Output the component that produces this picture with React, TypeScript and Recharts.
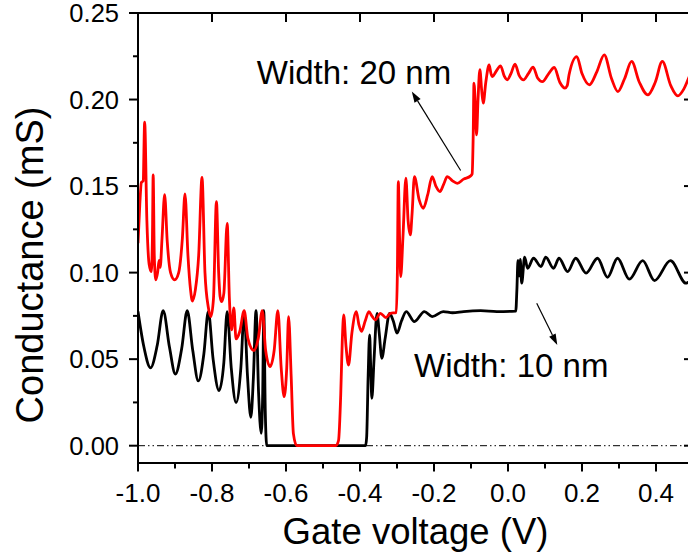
import { LineChart, Line, XAxis, YAxis, ReferenceLine, ReferenceDot } from "recharts";

// Width: 10 nm ribbon (black)
const blackV = [
  -1.0, -0.985, -0.966, -0.948, -0.932, -0.915, -0.899, -0.882, -0.867, -0.852,
  -0.837, -0.822, -0.81, -0.797, -0.781, -0.768, -0.759, -0.748, -0.735, -0.722,
  -0.713, -0.704, -0.695, -0.688, -0.681, -0.674, -0.667, -0.663, -0.66, -0.656,
  -0.652, -0.5, -0.385, -0.382, -0.378, -0.374, -0.371, -0.368, -0.362, -0.354,
  -0.348, -0.341, -0.332, -0.32, -0.31, -0.3, -0.288, -0.275, -0.253, -0.226,
  -0.205, -0.175, -0.15, -0.12, -0.074, -0.03, 0.021, 0.024, 0.027, 0.03,
  0.033, 0.037, 0.045, 0.053, 0.069, 0.089, 0.102, 0.123, 0.138, 0.161,
  0.183, 0.211, 0.242, 0.269, 0.296, 0.328, 0.364, 0.396, 0.439, 0.481, 0.5,
];
const blackG = [
  0.0775, 0.058, 0.045, 0.058, 0.078, 0.057, 0.0414, 0.056, 0.078, 0.055,
  0.0374, 0.053, 0.0775, 0.05, 0.0318, 0.048, 0.0775, 0.045, 0.0249, 0.045,
  0.077, 0.04, 0.0164, 0.04, 0.078, 0.03, 0.0072, 0.03, 0.078, 0.02,
  0.0, 0.0, 0.0, 0.005, 0.04, 0.064, 0.045, 0.0274, 0.05, 0.0765,
  0.065, 0.0505, 0.062, 0.0765, 0.072, 0.065, 0.072, 0.0775, 0.0717, 0.0775,
  0.0746, 0.0775, 0.0768, 0.0775, 0.078, 0.0775, 0.0778, 0.09, 0.107, 0.098,
  0.1077, 0.0939, 0.109, 0.1025, 0.1083, 0.1035, 0.1089, 0.1025, 0.1083, 0.1006,
  0.1083, 0.0997, 0.1083, 0.0973, 0.1083, 0.0962, 0.1069, 0.0954, 0.1069, 0.0939, 0.097,
];

// Width: 20 nm ribbon (red)
const redV = [
  -1.0, -0.995, -0.991, -0.986, -0.982, -0.976, -0.97, -0.964, -0.961, -0.959,
  -0.956, -0.952, -0.947, -0.943, -0.94, -0.935, -0.928, -0.921, -0.912, -0.901,
  -0.89, -0.88, -0.873, -0.865, -0.858, -0.853, -0.845, -0.836, -0.827, -0.819,
  -0.81, -0.803, -0.796, -0.788, -0.782, -0.778, -0.774, -0.768, -0.759, -0.753,
  -0.747, -0.741, -0.735, -0.725, -0.713, -0.703, -0.687, -0.675, -0.664, -0.655,
  -0.643, -0.632, -0.622, -0.613, -0.605, -0.598, -0.593, -0.586, -0.58, -0.571,
  -0.465, -0.458, -0.452, -0.448, -0.444, -0.438, -0.431, -0.422, -0.41, -0.403,
  -0.396, -0.386, -0.376, -0.368, -0.359, -0.345, -0.33, -0.318, -0.302, -0.299,
  -0.2965, -0.293, -0.29, -0.284, -0.276, -0.27, -0.264, -0.259, -0.253, -0.24,
  -0.229, -0.217, -0.205, -0.195, -0.184, -0.174, -0.164, -0.15, -0.137, -0.12,
  -0.101, -0.097, -0.094, -0.092, -0.088, -0.085, -0.081, -0.076, -0.071, -0.067,
  -0.06, -0.051, -0.046, -0.042, -0.033, -0.02, -0.01, -0.002, 0.008, 0.019,
  0.03, 0.042, 0.055, 0.068, 0.08, 0.093, 0.11, 0.125, 0.14, 0.154,
  0.16, 0.165, 0.186, 0.2, 0.22, 0.24, 0.26, 0.28, 0.297, 0.315,
  0.334, 0.355, 0.378, 0.398, 0.417, 0.44, 0.459, 0.475, 0.49, 0.5,
];
const redG = [
  0.117, 0.14, 0.152, 0.153, 0.187, 0.13, 0.105, 0.1006, 0.12, 0.1565,
  0.11, 0.0958, 0.1, 0.107, 0.103, 0.12, 0.145, 0.118, 0.1, 0.0958,
  0.1, 0.12, 0.1455, 0.11, 0.09, 0.0836, 0.09, 0.11, 0.155, 0.1,
  0.08, 0.0746, 0.085, 0.141, 0.1, 0.086, 0.0832, 0.088, 0.1285, 0.085,
  0.0669, 0.0796, 0.0617, 0.066, 0.078, 0.062, 0.055, 0.062, 0.078, 0.055,
  0.0457, 0.055, 0.078, 0.045, 0.0283, 0.045, 0.0746, 0.04, 0.007, 0.0,
  0.0, 0.003, 0.03, 0.06, 0.0756, 0.058, 0.0466, 0.065, 0.0775, 0.07,
  0.066, 0.072, 0.0775, 0.075, 0.0727, 0.0765, 0.074, 0.0765, 0.0769, 0.1,
  0.1526, 0.12, 0.0977, 0.12, 0.1546, 0.13, 0.1218, 0.135, 0.1555, 0.142,
  0.1372, 0.145, 0.1555, 0.15, 0.1468, 0.151, 0.1555, 0.153, 0.1516, 0.154,
  0.1559, 0.157, 0.18, 0.2095, 0.195, 0.1796, 0.2, 0.2172, 0.205, 0.1979,
  0.21, 0.22, 0.215, 0.2133, 0.216, 0.2195, 0.2135, 0.2114, 0.215, 0.2205,
  0.214, 0.2114, 0.215, 0.2187, 0.2125, 0.2104, 0.215, 0.2185, 0.21, 0.2066,
  0.208, 0.2143, 0.2248, 0.215, 0.2085, 0.216, 0.2258, 0.212, 0.2046, 0.212,
  0.222, 0.21, 0.2027, 0.21, 0.222, 0.208, 0.2021, 0.206, 0.2133, 0.218,
];

const xTicks = [-1.0, -0.9, -0.8, -0.7, -0.6, -0.5, -0.4, -0.3, -0.2, -0.1, 0.0, 0.1, 0.2, 0.3, 0.4, 0.5];
const xMajorTicks = [-1.0, -0.8, -0.6, -0.4, -0.2, 0.0, 0.2, 0.4];
const yTicks = [0, 0.025, 0.05, 0.075, 0.1, 0.125, 0.15, 0.175, 0.2, 0.225, 0.25];
const yMajorTicks = [0, 0.05, 0.1, 0.15, 0.2, 0.25];

const X_DOMAIN: [number, number] = [-1, 0.5];
const Y_DOMAIN: [number, number] = [-0.01, 0.25];

const blackData = blackV.map((v, i) => ({ v, g: blackG[i] }));
const redData = redV.map((v, i) => ({ v, g: redG[i] }));

const FONT = '"Liberation Sans", Arial, Helvetica, sans-serif';

// chart layout
const CHART_W = 700;
const CHART_H = 558;
const MARGIN = { top: 13, right: 7, bottom: 0, left: 0 };
const Y_AXIS_W = 138;
const X_AXIS_H = 95;
const PLOT_W = CHART_W - MARGIN.left - MARGIN.right - Y_AXIS_W;
const PLOT_H = CHART_H - MARGIN.top - MARGIN.bottom - X_AXIS_H;

const isMajorX = (v: number) => Math.round(v * 10) % 2 === 0;
const isMajorY = (v: number) => Math.round(v * 1000) % 50 === 0;

function BottomTick({ x, y, payload }: any) {
  const v = payload.value as number;
  const major = isMajorX(v);
  const label = (Math.abs(v) < 1e-9 ? 0 : v).toFixed(1);
  return (
    <g>
      <line x1={x} x2={x} y1={y} y2={y + (major ? 8.5 : 5.5)} stroke="#000" strokeWidth={2} />
      {major && (
        <text x={x} y={y + 38.5} textAnchor="middle" fontSize={26} fontFamily={FONT} fill="#000">
          {label}
        </text>
      )}
    </g>
  );
}

function LeftTick({ x, y, payload }: any) {
  const v = payload.value as number;
  const major = isMajorY(v);
  return (
    <g>
      <line x1={x} x2={x - (major ? 9 : 5)} y1={y} y2={y} stroke="#000" strokeWidth={2} />
      {major && (
        <text x={x - 19} y={y + 9} textAnchor="end" fontSize={25.5} fontFamily={FONT} fill="#000">
          {v.toFixed(2)}
        </text>
      )}
    </g>
  );
}

// top/right frame with inward ticks, as an svg overlay the size of the chart
function Frame() {
  const left = MARGIN.left + Y_AXIS_W;
  const top = MARGIN.top;
  const right = left + PLOT_W;
  const px = (t: number) => left + ((t - X_DOMAIN[0]) / (X_DOMAIN[1] - X_DOMAIN[0])) * PLOT_W;
  const py = (t: number) => top + ((Y_DOMAIN[1] - t) / (Y_DOMAIN[1] - Y_DOMAIN[0])) * PLOT_H;
  return (
    <svg
      width={CHART_W}
      height={CHART_H}
      style={{ position: "absolute", left: 0, top: 0, pointerEvents: "none" }}
    >
      <line x1={left - 1} x2={right} y1={top} y2={top} stroke="#000" strokeWidth={2} />
      <line x1={right} x2={right} y1={top} y2={top + PLOT_H} stroke="#000" strokeWidth={2} />
      {xMajorTicks.map((t) => (
        <line key={`tt${t}`} x1={px(t)} x2={px(t)} y1={top} y2={top + 9} stroke="#000" strokeWidth={2} />
      ))}
      {yMajorTicks.map((t) => (
        <line key={`rt${t}`} x1={right} x2={right - 9} y1={py(t)} y2={py(t)} stroke="#000" strokeWidth={2} />
      ))}
    </svg>
  );
}

function YTitle() {
  return (
    <text
      x={43}
      y={265}
      transform="rotate(-90 43 265)"
      textAnchor="middle"
      fontSize={38}
      fontFamily={FONT}
      fill="#000"
    >
      Conductance (mS)
    </text>
  );
}

function Arrow(props: any) {
  const { x1, y1, x2, y2 } = props;
  const ang = Math.atan2(y2 - y1, x2 - x1);
  const len = 11;
  const half = 3.6;
  const bx = x2 - len * Math.cos(ang);
  const by = y2 - len * Math.sin(ang);
  const qx = -Math.sin(ang) * half;
  const qy = Math.cos(ang) * half;
  return (
    <g>
      <line x1={x1} y1={y1} x2={bx} y2={by} stroke="#000" strokeWidth={1.2} />
      <polygon points={`${x2},${y2} ${bx + qx},${by + qy} ${bx - qx},${by - qy}`} fill="#000" />
    </g>
  );
}

function textShape(value: string) {
  return (props: any) => (
    <text x={props.cx} y={props.cy} fontSize={33} fontFamily={FONT} fill="#000">
      {value}
    </text>
  );
}

function XTitle() {
  return (
    <text x={415.5} y={544} textAnchor="middle" fontSize={36.5} fontFamily={FONT} fill="#000">
      Gate voltage (V)
    </text>
  );
}

export default function App() {
  return (
    <div
      style={{
        position: "fixed",
        left: 0,
        top: 0,
        width: 688,
        height: 558,
        overflow: "hidden",
        background: "#fff",
      }}
    >
      <LineChart width={CHART_W} height={CHART_H} margin={MARGIN}>
        <XAxis
          dataKey="v"
          type="number"
          domain={X_DOMAIN}
          allowDataOverflow
          ticks={xTicks}
          interval={0}
          height={X_AXIS_H}
          tickSize={0}
          tickMargin={0}
          tickLine={false}
          axisLine={{ stroke: "#000", strokeWidth: 2 }}
          tick={<BottomTick />}
          label={<XTitle />}
        />
        <YAxis
          type="number"
          domain={Y_DOMAIN}
          allowDataOverflow
          ticks={yTicks}
          interval={0}
          width={Y_AXIS_W}
          tickSize={0}
          tickMargin={0}
          tickLine={false}
          axisLine={{ stroke: "#000", strokeWidth: 2 }}
          tick={<LeftTick />}
          label={<YTitle />}
        />

        <ReferenceLine y={0} stroke="#000" strokeWidth={1} strokeDasharray="7 3 1.5 3 1.5 3" />
        <Line
          data={blackData}
          dataKey="g"
          type="monotone"
          stroke="#000"
          strokeWidth={2.8}
          dot={false}
          isAnimationActive={false}
        />
        <Line
          data={redData}
          dataKey="g"
          type="monotone"
          stroke="#ff0000"
          strokeWidth={2.8}
          dot={false}
          isAnimationActive={false}
        />
        <ReferenceLine
          segment={[
            { x: -0.128, y: 0.159 },
            { x: -0.26, y: 0.2046 },
          ]}
          shape={<Arrow />}
        />
        <ReferenceLine
          segment={[
            { x: 0.0776, y: 0.0823 },
            { x: 0.1332, y: 0.0582 },
          ]}
          shape={<Arrow />}
        />
        <ReferenceDot x={-0.679} y={0.2091} r={0} shape={textShape("Width: 20 nm")} />
        <ReferenceDot x={-0.254} y={0.0395} r={0} shape={textShape("Width: 10 nm")} />
      </LineChart>
      <Frame />
    </div>
  );
}
